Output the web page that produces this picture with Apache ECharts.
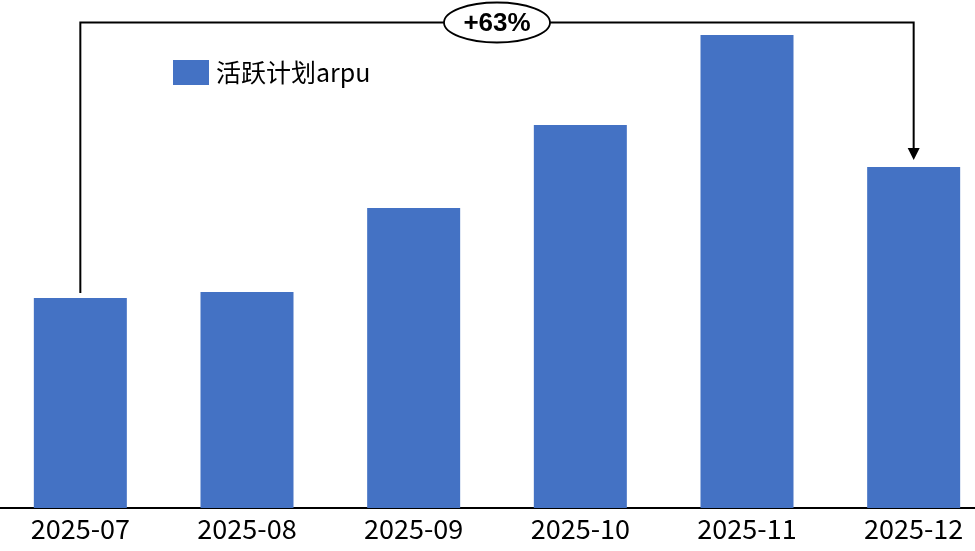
<!DOCTYPE html>
<html>
<head>
<meta charset="utf-8">
<script src="https://cdn.jsdelivr.net/npm/echarts@6/dist/echarts.min.js"></script>
<style>
html,body{margin:0;padding:0;background:#fff;}
#chart{width:975px;height:551px;}
</style>
</head>
<body>
<div id="chart"></div>
<script>
// Data
var categories = ['2025-07', '2025-08', '2025-09', '2025-10', '2025-11', '2025-12'];
var seriesName = '活跃计划arpu';
var arpuValues = [21.0, 21.6, 30.0, 38.3, 47.3, 34.1];
var changeLabel = '+63%';

var chart = echarts.init(document.getElementById('chart'), null, {renderer: 'canvas'});
var FONT = '"Noto Sans CJK SC", "Liberation Sans", sans-serif';

chart.setOption({
  animation: false,
  backgroundColor: '#ffffff',
  grid: {left: -3, width: 1000, top: 0, bottom: 43, containLabel: false, outerBoundsMode: 'none'},
  legend: {
    data: [seriesName],
    left: 173, top: 60,
    padding: 0,
    icon: 'rect',
    itemWidth: 36, itemHeight: 25,
    textStyle: {fontFamily: FONT, fontSize: 25, color: '#000', padding: [0, 0, 0, 2]}
  },
  xAxis: {
    type: 'category',
    data: categories,
    axisLine: {show: true, lineStyle: {color: '#000', width: 2}},
    axisTick: {show: false},
    axisLabel: {fontFamily: FONT, fontSize: 27, color: '#000', margin: 7}
  },
  yAxis: {
    type: 'value', min: 0, max: 50.8,
    show: false,
    splitLine: {show: false}
  },
  series: [{
    name: seriesName,
    type: 'bar',
    data: arpuValues,
    barWidth: 93,
    itemStyle: {color: '#4472C4'}
  }]
});

function drawAnnotation() {
  var first = 0, last = arpuValues.length - 1;
  var maxVal = Math.max.apply(null, arpuValues);
  var p0 = chart.convertToPixel({seriesIndex: 0}, [first, arpuValues[first]]);
  var p1 = chart.convertToPixel({seriesIndex: 0}, [last, arpuValues[last]]);
  var pm = chart.convertToPixel({seriesIndex: 0}, [0, maxVal]);
  var topY = pm[1] - 12.5;
  var x0 = p0[0], x1 = p1[0];
  var y0 = p0[1] - 5;
  var y1 = p1[1] - 7;
  var midX = (x0 + x1) / 2;
  chart.setOption({
    graphic: [
      {type: 'polyline', shape: {points: [[x0, y0], [x0, topY], [x1, topY], [x1, y1 - 11]]}, style: {stroke: '#000', lineWidth: 2, fill: null}, z: 100},
      {type: 'polygon', shape: {points: [[x1 - 6, y1 - 12], [x1 + 6, y1 - 12], [x1, y1]]}, style: {fill: '#000'}, z: 100},
      {type: 'ellipse', shape: {cx: midX, cy: topY, rx: 53, ry: 20}, style: {fill: '#fff', stroke: '#000', lineWidth: 1.8}, z: 101},
      {type: 'text', x: midX, y: topY + 1, style: {text: changeLabel, fontFamily: '"Liberation Sans", sans-serif', fontWeight: 'bold', fontSize: 26, fill: '#000', align: 'center', verticalAlign: 'middle'}, z: 102}
    ]
  });
}
drawAnnotation();
</script>
</body>
</html>
